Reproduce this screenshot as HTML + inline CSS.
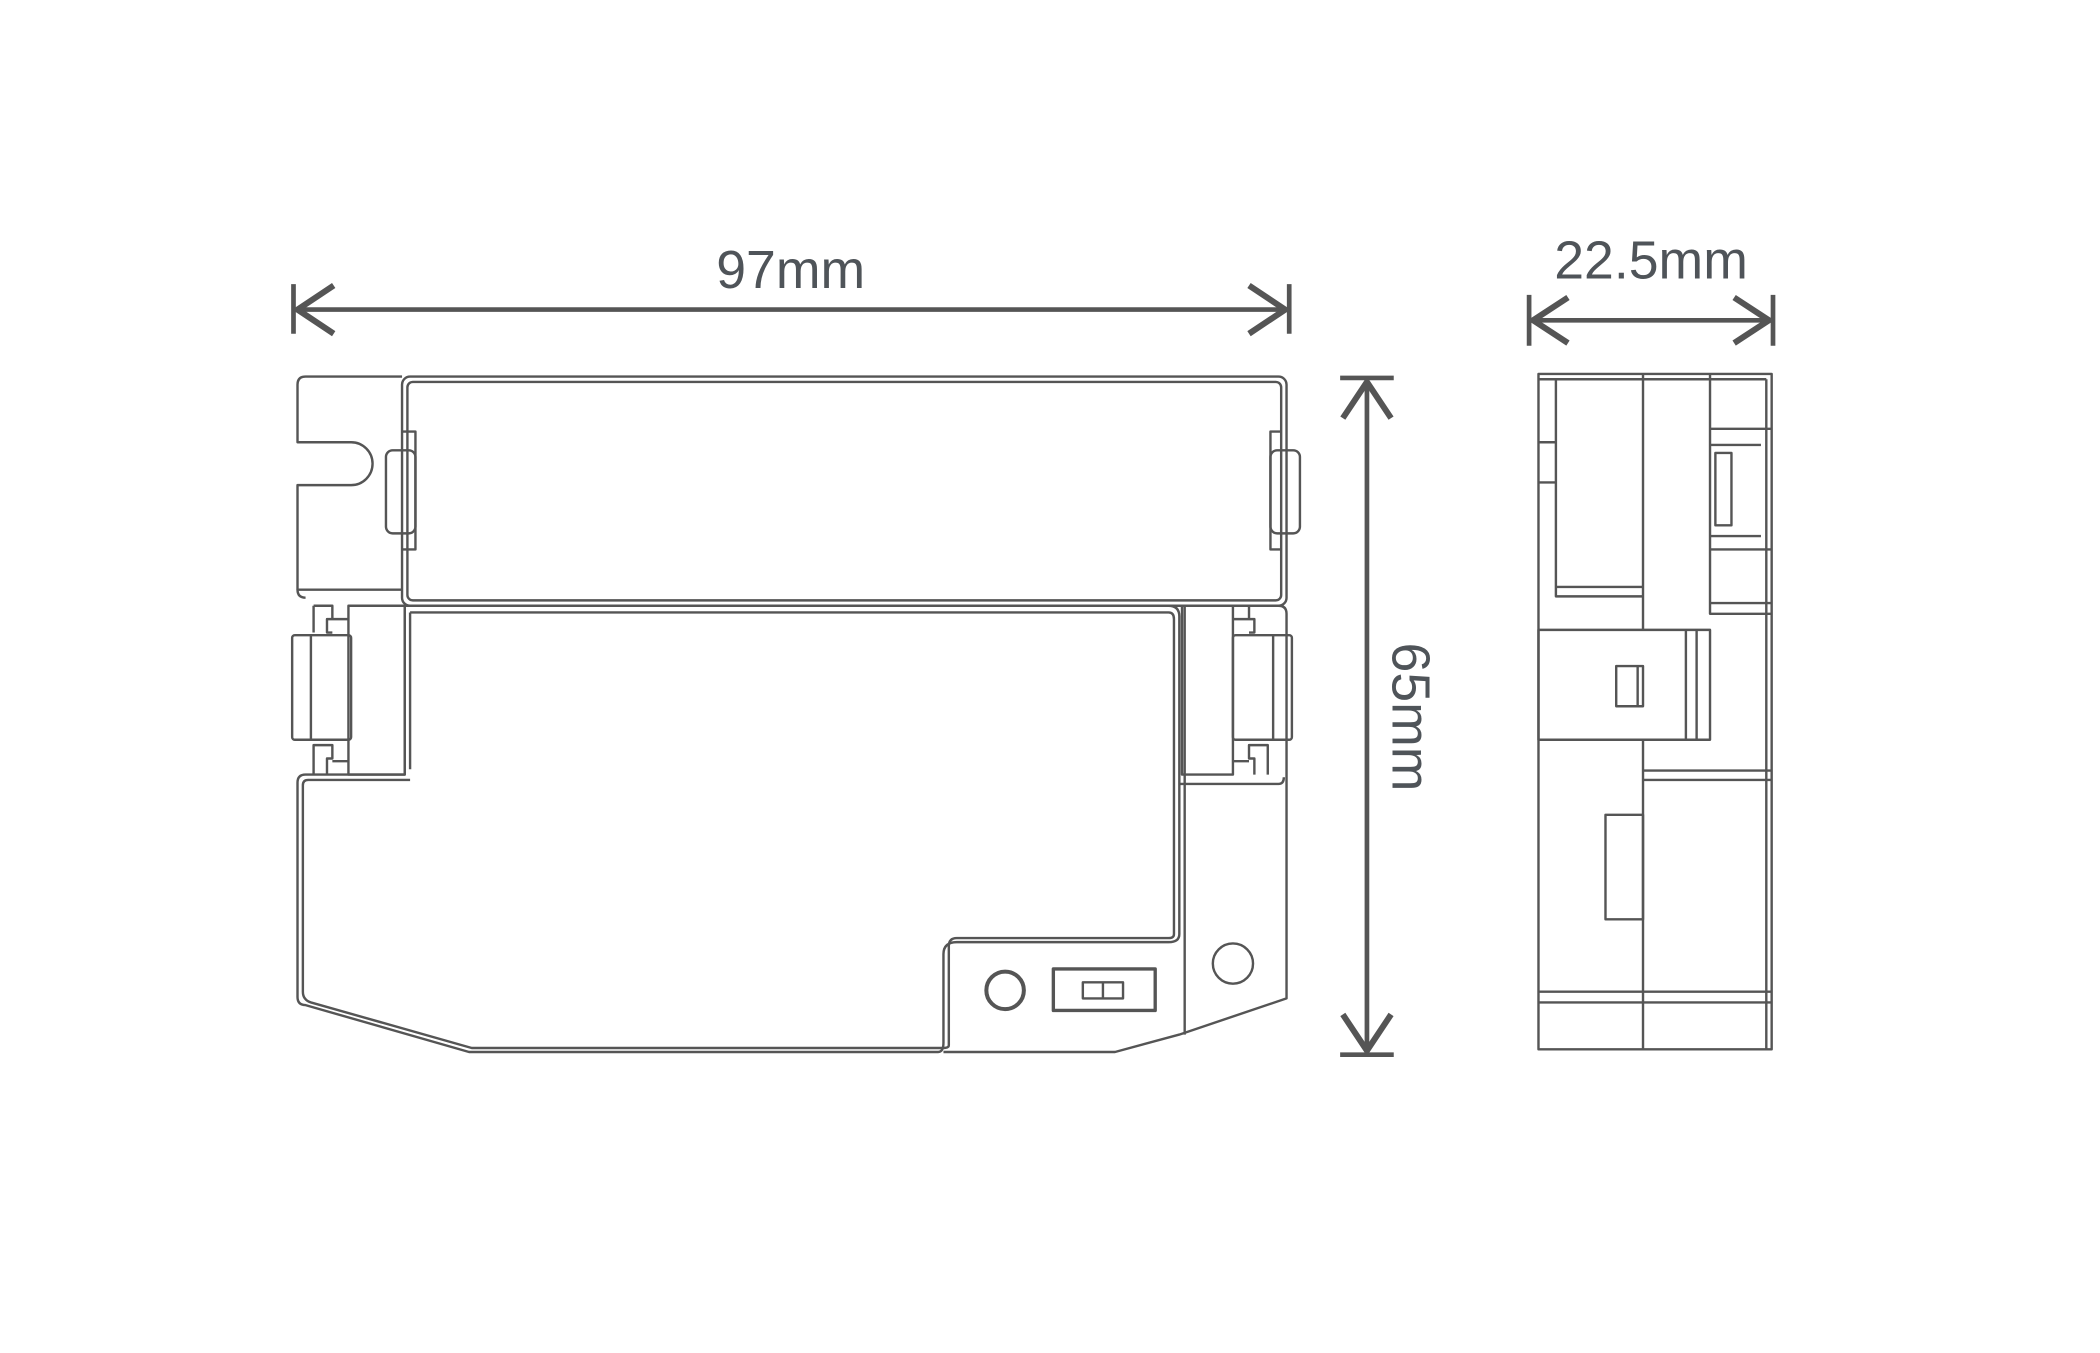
<!DOCTYPE html>
<html><head><meta charset="utf-8"><style>
html,body{margin:0;padding:0;background:#fff;}
svg{display:block}
</style></head><body>
<svg width="2100" height="1353" viewBox="0 0 1567 1009.6" preserveAspectRatio="none" xmlns="http://www.w3.org/2000/svg">
<g fill="none" stroke="#555" stroke-width="1.8" stroke-linejoin="round">
<path d="M300,281 H228 Q222,281 222,287 V330 H262 A16,16 0 0 1 262,362 H222 V440 H300"/>
<path d="M222,440 Q222,446 228,446"/>
<rect x="300" y="281" width="660" height="171" rx="6"/>
<rect x="304" y="285" width="652" height="163" rx="4"/>
<rect x="288" y="336" width="22" height="62" rx="5"/>
<rect x="948" y="336" width="22" height="62" rx="5"/>
<path d="M300,322 H310 V410 H300 M956,322 H948 V410 H956"/>
<path d="M302,452 V578 H228 Q222,578 222,584 V744 Q222,750 228,750 L350,785 H700 Q704,785 704,778 V712 Q704,703 714,703 H872 Q880,703 880,697 V460 Q880,452 872,452 H302"/>
<path d="M306,457 V574 M306,457 H872 Q876,457 876,462 V697 Q876,700 872,700 H714 Q708,700 708,706 V780 Q708,782 704,782 H352 L232,748 Q226,746 226,740 V586 Q226,582 230,582 H306"/>
<rect x="218" y="474" width="44" height="78" rx="2"/>
<path d="M232,474 V552"/>
<rect x="260" y="452" width="42" height="126"/>
<path d="M234,452 H248 V462 H244 V472 H248 M234,452 V472 M234,578 V556 H248 V566 H244 V578 M248,462 H260 M248,568 H260"/>
<path d="M880,452 H954 Q960,452 960,458 V745 L880,772 L832,785 H704"/>
<path d="M880,585 H954 Q958,585 958,580"/>
<path d="M884,452 V772"/>
<rect x="920" y="474" width="44" height="78" rx="2"/>
<path d="M950,474 V552"/>
<rect x="882" y="452" width="38" height="126"/>
<path d="M946,452 H932 V462 H936 V472 H932 M946,578 V556 H932 V566 H936 V578 M932,462 H920 M932,568 H920"/>
<circle cx="920" cy="719" r="15"/>
<circle cx="750" cy="739" r="14" stroke-width="3"/>
<rect x="786" y="723" width="76" height="31" stroke-width="2.5"/>
<rect x="808" y="733" width="30" height="12"/>
<path d="M823,733 V745"/>
<rect x="1148" y="279" width="174" height="504"/>
<path d="M1148,283 H1318 M1318,283 V783 M1226,279 V470 M1226,552 V783"/>
<path d="M1161,283 V445 H1226 M1161,438 H1226 M1148,330 H1161 M1148,360 H1161"/>
<rect x="1148" y="470" width="128" height="82"/>
<path d="M1258,470 V552 M1266,470 V552"/>
<rect x="1206" y="497" width="20" height="30"/>
<path d="M1222,497 V527"/>
<path d="M1276,279 V458 H1322 M1276,320 H1322 M1276,332 H1314 M1276,400 H1314 M1276,410 H1322 M1276,450 H1322"/>
<rect x="1280" y="338" width="12" height="54"/>
<path d="M1226,575 H1322 M1226,582 H1322 M1148,740 H1322 M1148,748 H1322"/>
<rect x="1198" y="608" width="28" height="78"/>
</g>
<g fill="none" stroke="#555" stroke-width="3.5" stroke-linecap="butt">
<path d="M219,212 V249 M962,212 V249 M221,231 H960"/>
<path d="M249,213 L222,231 L249,249 M932,213 L959,231 L932,249" stroke-width="4.5"/>
<path d="M1000,282 H1040 M1000,787 H1040 M1020,284 V785"/>
<path d="M1002,312 L1020,285 L1038,312 M1002,757 L1020,784 L1038,757" stroke-width="4.5"/>
<path d="M1141,220 V258 M1323,220 V258 M1143,239 H1321"/>
<path d="M1170,222 L1144,239 L1170,256 M1294,222 L1320,239 L1294,256" stroke-width="4.5"/>
</g>
<g fill="#4f5459" font-family="Liberation Sans, sans-serif" font-size="40">
<text x="590" y="215" text-anchor="middle">97mm</text>
<text x="1232" y="208" text-anchor="middle">22.5mm</text>
<text transform="translate(1039,535) rotate(90)" text-anchor="middle">65mm</text>
</g>
</svg>
</body></html>
